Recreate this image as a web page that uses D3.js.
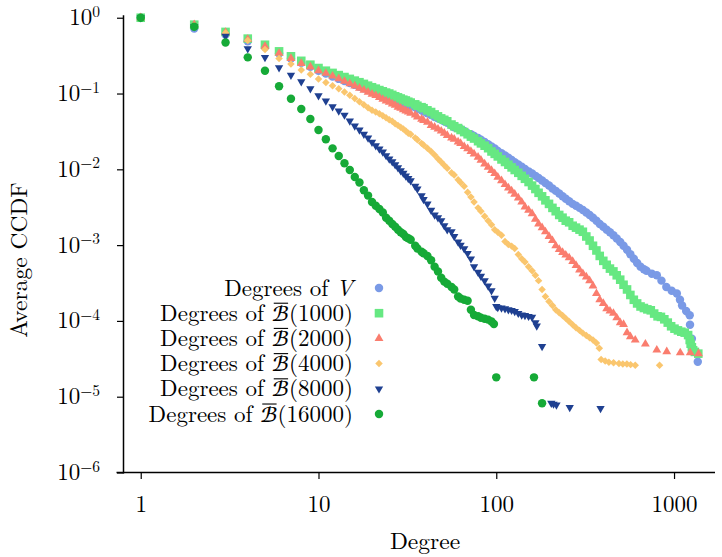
<!DOCTYPE html>
<html><head><meta charset="utf-8">
<script src="https://cdn.jsdelivr.net/npm/d3@7"></script>
</head><body style="margin:0;background:#fff;">
<svg id="chart" width="722" height="557" style="display:block"></svg>
<script>
// ---------------- DATA ----------------
const xTicks = [1, 10, 100, 1000];
const xMinorTicks = [0.8, 2, 5, 8, 20, 50, 80, 200, 500, 800];
const yTickExps = [0, -1, -2, -3, -4, -5, -6];
const yMinorTicks = [0.8, 0.5, 0.2, 0.08, 0.05, 0.02, 0.008, 0.005, 0.002, 8e-4, 5e-4, 2e-4, 8e-5, 5e-5, 2e-5, 8e-6, 5e-6, 2e-6];
const seriesLabels = ["V", "1000", "2000", "4000", "8000", "16000"];

// [degree, average CCDF]
const pointsV = [[1,1],[2,0.72],[3,0.60],[4,0.49],[5,0.41],[6,0.34],[7,0.29],[8,0.255],[9,0.225],[10,0.20],[11,0.183],[12,0.168],[13,0.156],[14,0.146],[15,0.138],[16,0.13],[17,0.123],[18,0.117],[19,0.111],[20,0.106],[21,0.102],[22,0.098],[23,0.094],[24,0.091],[25,0.088],[26,0.085],[27,0.082],[28,0.080],[29,0.077],[30,0.075],[31,0.073],[32,0.071],[33,0.069],[35,0.066],[36,0.063],[38,0.060],[39,0.058],[41,0.055],[43,0.052],[45,0.049],[47,0.047],[49,0.045],[51,0.043],[53,0.041],[56,0.038],[58,0.036],[61,0.035],[63,0.034],[66,0.032],[69,0.030],[72,0.029],[75,0.0275],[79,0.026],[82,0.0245],[86,0.023],[90,0.0215],[94,0.020],[98,0.0188],[102,0.0175],[107,0.0163],[112,0.0152],[117,0.0142],[122,0.0133],[127,0.0124],[133,0.0116],[139,0.0108],[145,0.0101],[152,0.0094],[159,0.0088],[166,0.0082],[173,0.0077],[181,0.0071],[189,0.0066],[198,0.0061],[207,0.0056],[216,0.0052],[226,0.0048],[236,0.0044],[246,0.0041],[257,0.0038],[269,0.0035],[281,0.0033],[294,0.0031],[307,0.0029],[321,0.0027],[335,0.0025],[350,0.0023],[366,0.0021],[382,0.0019],[400,0.00175],[418,0.0016],[436,0.00148],[456,0.00135],[476,0.00122],[498,0.0011],[520,0.00098],[544,0.00087],[568,0.00076],[594,0.00066],[620,0.00058],[648,0.00052],[677,0.00048],[700,0.00046],[750,0.00042],[800,0.0004],[850,0.00034],[905,0.00028],[970,0.00025],[1037,0.00023],[1080,0.00019],[1110,0.00016],[1170,0.000135],[1225,0.000119],[1230,0.000089],[1260,0.000058],[1360,0.000029]];

const points1000 = [[1,1],[2,0.81],[3,0.65],[4,0.53],[5,0.44],[6,0.36],[7,0.31],[8,0.27],[9,0.24],[10,0.217],[11,0.20],[12,0.187],[13,0.175],[14,0.165],[15,0.156],[16,0.148],[17,0.141],[18,0.134],[19,0.127],[20,0.121],[21,0.116],[22,0.111],[23,0.107],[24,0.103],[25,0.100],[26,0.096],[27,0.092],[28,0.089],[29,0.086],[30,0.083],[31,0.081],[32,0.078],[33,0.076],[35,0.072],[36,0.069],[38,0.066],[39,0.064],[41,0.060],[43,0.057],[45,0.053],[47,0.050],[49,0.047],[51,0.045],[53,0.043],[56,0.039],[58,0.037],[61,0.035],[63,0.033],[66,0.031],[69,0.029],[72,0.027],[75,0.0255],[79,0.0235],[82,0.022],[86,0.0205],[90,0.019],[94,0.0172],[98,0.016],[102,0.0148],[107,0.0135],[112,0.0125],[117,0.0115],[122,0.0106],[127,0.0098],[133,0.0090],[139,0.0082],[145,0.0075],[152,0.0068],[159,0.0061],[166,0.0055],[173,0.0049],[181,0.0044],[189,0.0039],[198,0.0035],[207,0.0031],[216,0.0028],[226,0.0025],[236,0.0023],[246,0.0021],[257,0.0020],[269,0.0018],[281,0.0017],[294,0.0016],[307,0.0015],[321,0.0013],[335,0.00115],[350,0.00098],[366,0.00085],[382,0.00072],[400,0.00062],[418,0.00055],[436,0.00049],[456,0.00045],[476,0.00040],[498,0.00035],[520,0.00030],[544,0.00026],[568,0.00022],[594,0.00019],[620,0.00017],[648,0.000155],[677,0.000148],[708,0.000142],[740,0.000138],[773,0.000125],[808,0.000115],[844,0.000113],[882,0.000105],[922,0.000095],[963,0.000085],[1006,0.000079],[1052,0.000075],[1099,0.000072],[1148,0.00007],[1200,0.000065],[1225,0.000056],[1240,0.00005],[1260,0.000045],[1280,0.000041],[1310,0.000039],[1369,0.000037]];

const points2000 = [[1,1],[2,0.81],[3,0.64],[4,0.52],[5,0.42],[6,0.34],[7,0.29],[8,0.25],[9,0.224],[10,0.20],[11,0.185],[12,0.17],[13,0.157],[14,0.145],[15,0.135],[16,0.126],[17,0.118],[18,0.111],[19,0.104],[20,0.098],[21,0.094],[22,0.089],[23,0.084],[24,0.080],[25,0.077],[26,0.073],[27,0.070],[28,0.066],[29,0.064],[30,0.061],[31,0.059],[32,0.057],[33,0.055],[35,0.052],[36,0.049],[38,0.046],[39,0.044],[41,0.042],[43,0.038],[45,0.036],[47,0.034],[49,0.032],[51,0.030],[53,0.028],[56,0.026],[58,0.025],[61,0.023],[63,0.022],[66,0.020],[69,0.0187],[72,0.0172],[75,0.016],[79,0.0145],[82,0.0132],[86,0.0118],[90,0.0107],[94,0.0097],[98,0.0088],[102,0.0079],[107,0.0071],[112,0.0063],[117,0.0057],[122,0.0052],[127,0.0047],[133,0.0042],[139,0.0037],[145,0.0032],[152,0.0029],[159,0.0026],[166,0.0022],[173,0.0019],[181,0.0017],[189,0.0015],[198,0.0013],[207,0.00115],[216,0.00098],[226,0.00088],[236,0.0008],[246,0.00074],[257,0.00068],[269,0.00061],[281,0.00054],[294,0.00047],[307,0.00042],[321,0.00038],[335,0.00034],[350,0.00029],[366,0.00023],[382,0.00019],[400,0.00017],[418,0.000145],[436,0.000135],[456,0.000126],[476,0.00011],[498,0.000095],[520,0.00009],[544,0.00007],[568,0.000062],[605,0.000056],[690,0.0000495],[800,0.0000413],[910,0.0000393],[1084,0.000038],[1233,0.000038],[1374,0.000037]];

const points4000 = [[1,1],[2,0.79],[3,0.63],[4,0.50],[5,0.38],[6,0.29],[7,0.245],[8,0.205],[9,0.18],[10,0.155],[11,0.14],[12,0.127],[13,0.116],[14,0.105],[15,0.095],[16,0.086],[17,0.078],[18,0.071],[19,0.065],[20,0.060],[21,0.057],[22,0.054],[23,0.051],[24,0.048],[25,0.045],[26,0.043],[27,0.040],[28,0.038],[29,0.036],[30,0.034],[31,0.032],[32,0.030],[33,0.029],[35,0.026],[36,0.0245],[38,0.022],[39,0.021],[41,0.019],[43,0.0172],[45,0.0155],[47,0.0138],[49,0.0125],[51,0.0113],[53,0.0103],[56,0.0090],[58,0.0084],[61,0.0073],[63,0.0067],[66,0.0060],[69,0.0050],[72,0.0043],[75,0.0037],[79,0.0031],[82,0.0028],[86,0.0024],[90,0.0021],[94,0.00185],[98,0.0016],[102,0.00148],[107,0.00135],[112,0.00112],[117,0.00102],[122,0.00097],[127,0.0009],[133,0.00075],[139,0.00066],[145,0.0006],[152,0.00052],[159,0.00046],[166,0.0004],[173,0.00034],[181,0.00026],[189,0.00021],[198,0.00018],[207,0.00016],[216,0.00014],[226,0.000128],[236,0.000118],[246,0.000108],[257,0.000098],[269,0.000089],[281,0.000081],[294,0.000075],[307,0.000069],[321,0.000064],[335,0.00006],[350,0.000056],[366,0.000051],[380,0.0000435],[389,0.000031],[410,0.0000295],[430,0.0000285],[457,0.000028],[490,0.0000275],[515,0.000027],[543,0.000027],[570,0.0000265],[605,0.000026],[829,0.000026]];

const points8000 = [[1,1],[2,0.76],[3,0.57],[4,0.39],[5,0.30],[6,0.22],[7,0.175],[8,0.143],[9,0.116],[10,0.0935],[11,0.08],[12,0.067],[13,0.0588],[14,0.052],[15,0.0434],[16,0.0373],[17,0.033],[18,0.029],[19,0.026],[20,0.0228],[21,0.0205],[22,0.0186],[23,0.017],[24,0.0152],[25,0.0137],[26,0.0126],[27,0.0115],[28,0.0105],[29,0.0096],[30,0.0089],[31,0.0082],[32,0.0076],[33,0.0071],[35,0.006],[36,0.0055],[38,0.0045],[39,0.004],[41,0.0035],[43,0.0029],[45,0.0025],[47,0.0023],[49,0.0021],[51,0.0018],[53,0.0016],[56,0.0015],[58,0.0013],[61,0.0011],[63,0.001],[66,0.0009],[69,0.00078],[72,0.00066],[75,0.00052],[79,0.00044],[82,0.00039],[86,0.00034],[90,0.00029],[94,0.00025],[98,0.0002],[100,0.000155],[102,0.00015],[107,0.000148],[112,0.000145],[117,0.000141],[122,0.000138],[127,0.000133],[133,0.000126],[139,0.00012],[145,0.000118],[152,0.000115],[159,0.000112],[166,0.000095],[169,0.000086],[181,0.000046],[204,0.0000082],[210,0.000008],[218,0.0000078],[259,0.0000072],[386,0.000007]];

const points16000 = [[1,1],[2,0.76],[3,0.47],[4,0.30],[5,0.20],[6,0.125],[7,0.0855],[8,0.0625],[9,0.046],[10,0.033],[11,0.0249],[12,0.0189],[13,0.015],[14,0.012],[15,0.0098],[16,0.0079],[17,0.0067],[18,0.0053],[19,0.0045],[20,0.0037],[21,0.0033],[22,0.003],[23,0.0027],[24,0.0023],[25,0.0021],[26,0.0019],[27,0.00175],[28,0.0016],[29,0.00148],[30,0.0014],[31,0.00128],[32,0.00123],[33,0.00118],[35,0.00098],[36,0.0009],[38,0.00082],[39,0.00078],[41,0.00072],[43,0.00063],[45,0.00052],[47,0.00045],[49,0.00037],[51,0.00033],[53,0.00031],[56,0.00028],[58,0.00026],[61,0.00021],[63,0.000198],[66,0.00019],[69,0.000185],[72,0.00014],[75,0.00012],[79,0.000115],[82,0.00011],[86,0.000107],[90,0.000104],[94,0.000098],[97,0.000091],[100,0.000018],[163,0.000018],[181,0.0000082]];

// ---------------- STYLE ----------------
const FONT = '"Latin Modern Roman","Liberation Serif",serif';
const CAL_FONT = '"STIX Two Math","Latin Modern Roman",serif';
const styles = [
  {color:"#7a9ae6", shape:"circle",  size:56},
  {color:"#66e882", shape:"square",  size:74},
  {color:"#fa7d6e", shape:"triangle",size:34},
  {color:"#fac66e", shape:"diamond", size:28},
  {color:"#1f4091", shape:"tridown", size:30},
  {color:"#16aa37", shape:"circle",  size:56}
];
const seriesData = [pointsV, points1000, points2000, points4000, points8000, points16000];

const svg = d3.select("#chart");
const x = d3.scaleLog().domain([0.8, 1700]).range([123.5, 715]);
const y = d3.scaleLog().domain([1e-6, 1.08]).range([472.5, 15.2]);

function symPath(shape, size) {
  const t = shape === "circle" ? d3.symbolCircle :
            (shape === "square" || shape === "diamond") ? d3.symbolSquare : d3.symbolTriangle;
  return d3.symbol().type(t).size(size)();
}
function symTransform(shape, px, py) {
  if (shape === "diamond") return `translate(${px},${py}) rotate(45)`;
  if (shape === "tridown") return `translate(${px},${py}) rotate(180)`;
  return `translate(${px},${py})`;
}

seriesData.forEach((pts, i) => {
  const st = styles[i];
  svg.append("g").selectAll("path").data(pts).join("path")
    .attr("d", symPath(st.shape, st.size))
    .attr("transform", p => symTransform(st.shape, x(p[0]), y(p[1])))
    .attr("fill", st.color);
});

// axes
const axisW = 1.5;
const gx = svg.append("g").attr("transform", `translate(0,${y.range()[0]})`);
gx.call(d3.axisBottom(x).tickValues(xMinorTicks).tickSize(3).tickSizeOuter(0).tickFormat(""));
gx.call(d3.axisBottom(x).tickValues(xTicks).tickSize(6.5).tickSizeOuter(0).tickFormat(d3.format("d")));
gx.attr("font-family", FONT).attr("font-size", 23);
gx.selectAll(".domain").attr("stroke-width", axisW).attr("d", `M${x.range()[0] - 7},0H${x.range()[1]}`);
gx.selectAll(".tick line").attr("stroke-width", 1.2);
gx.selectAll(".tick text").attr("y", 39.5).attr("dy", 0)
  .attr("font-family", FONT).attr("font-size", 23);

const gy = svg.append("g").attr("transform", `translate(${x.range()[0]},0)`);
gy.call(d3.axisLeft(y).tickValues(yMinorTicks).tickSize(3).tickSizeOuter(0).tickFormat(""));
gy.call(d3.axisLeft(y).tickValues(yTickExps.map(e => Math.pow(10, e))).tickSize(6.5).tickSizeOuter(0).tickFormat(""));
gy.selectAll(".domain").attr("stroke-width", axisW).attr("d", `M0,${y.range()[1]}V${y.range()[0] + 1}`);
gy.selectAll(".tick line").attr("stroke-width", 1.2);

yTickExps.forEach(e => {
  const t = svg.append("text")
    .attr("x", 100).attr("y", y(Math.pow(10, e)) + 7.5)
    .attr("text-anchor", "end").attr("font-family", FONT).attr("font-size", 23);
  t.append("tspan").text("10");
  t.append("tspan").attr("dy", -8.5).attr("font-size", 15.5)
    .text(e === 0 ? "0" : "\u2212" + Math.abs(e));
});

svg.append("text").attr("x", 425).attr("y", 549).attr("text-anchor", "middle")
  .attr("font-family", FONT).attr("font-size", 23.5).text("Degree");
svg.append("text").attr("transform", "translate(27,260) rotate(-90)")
  .attr("text-anchor", "middle").attr("font-family", FONT).attr("font-size", 23.5).text("Average CCDF");

// legend
const legX = 353, legMarkX = 379, legY0 = 288, legDy = 25.2, legFont = 23;
seriesLabels.forEach((lab, i) => {
  const yy = legY0 + i * legDy;
  const t = svg.append("text").attr("x", legX).attr("y", yy + 7.5)
    .attr("text-anchor", "end").attr("font-family", FONT).attr("font-size", legFont);
  t.append("tspan").text("Degrees of ");
  if (i === 0) {
    t.append("tspan").attr("font-style", "italic").text("V");
  } else {
    t.append("tspan").attr("font-family", CAL_FONT).text("\u212C");
    t.append("tspan").text("(" + lab + ")");
    const ext = t.node().getExtentOfChar(11);
    const oy = yy + 7.5 - 0.76 * legFont;
    svg.append("line")
      .attr("x1", ext.x + 2).attr("x2", ext.x + ext.width - 1)
      .attr("y1", oy).attr("y2", oy)
      .attr("stroke", "#000").attr("stroke-width", 1.1);
  }
  const st = styles[i];
  svg.append("path").attr("d", symPath(st.shape, st.size))
    .attr("transform", symTransform(st.shape, legMarkX, yy))
    .attr("fill", st.color);
});
</script>
</body></html>
